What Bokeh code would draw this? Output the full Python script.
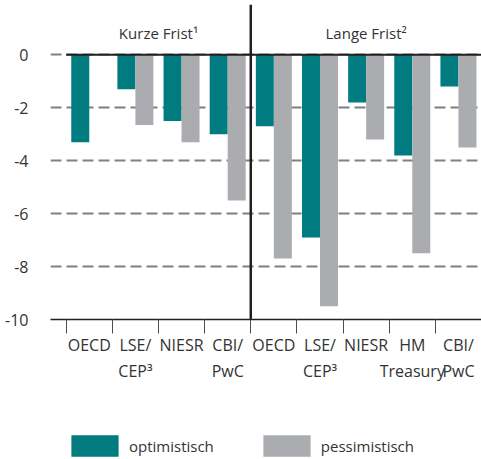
from bokeh.plotting import figure
from bokeh.models import Range1d, FixedTicker, Span, Legend, LegendItem, ColumnDataSource
from bokeh.layouts import column
from bokeh.core.properties import value
from bokeh.embed import file_html
from bokeh.resources import INLINE

# ---- data ----
categories = ["OECD", "LSE/\nCEP³", "NIESR", "CBI/\nPwC",
              "OECD", "LSE/\nCEP³", "NIESR", "HM\nTreasury", "CBI/\nPwC"]
optimistisch = [-3.3, -1.3, -2.5, -3.0, -2.7, -6.9, -1.8, -3.8, -1.2]
pessimistisch = [0.0, -2.65, -3.3, -5.5, -7.7, -9.5, -3.2, -7.5, -3.5]
groups = ["Kurze Frist¹", "Lange Frist²"]
group_sizes = [4, 5]
y_ticks = [0, -2, -4, -6, -8, -10]
y_labels = ["0", "-2", "-4", "-6", "-8", "-10"]
series_names = ["optimistisch", "pessimistisch"]

TEAL = "#007b80"
GREY = "#abacb0"
TXT = "#333333"
FONT = "Open Sans"

n = len(categories)
centers = [i + 0.5 for i in range(n)]
bw = 0.39

p = figure(frame_width=431, frame_height=315, output_backend="svg", toolbar_location=None,
           x_range=Range1d(-0.34, 9.0), y_range=Range1d(-10, 1.9),
           min_border_left=50, min_border_right=0, min_border_top=4,
           min_border_bottom=100)
p.outline_line_color = None
p.background_fill_color = None
p.border_fill_color = None

src = ColumnDataSource(dict(
    xo=[c - bw / 2 for c in centers], xp=[c + bw / 2 for c in centers],
    o=optimistisch, pe=pessimistisch))
p.vbar(x="xo", top=0, bottom="o", width=bw, source=src,
       fill_color=TEAL, line_color=None)
p.vbar(x="xp", top=0, bottom="pe", width=bw, source=src,
       fill_color=GREY, line_color=None)

# grid
p.xgrid.visible = False
p.ygrid.ticker = FixedTicker(ticks=y_ticks)
p.ygrid.grid_line_color = "#808080"
p.ygrid.grid_line_width = 2
p.ygrid.grid_line_dash = "11 5"
p.ygrid.level = "underlay"

# zero line (black) from first category boundary to end
p.segment(x0=[0], x1=[n], y0=[0], y1=[0], line_color="#231f20", line_width=2)

# separator between groups
p.add_layout(Span(location=group_sizes[0], dimension="height",
                  line_color="#231f20", line_width=2.5))

# group headers
gx = [group_sizes[0] / 2, group_sizes[0] + group_sizes[1] / 2]
p.text(x=gx, y=[0.84, 0.84], text=groups, text_align="center",
       text_baseline="middle", text_font=value(FONT),
       text_font_size="15px", text_color=TXT)

# y axis
p.yaxis.ticker = FixedTicker(ticks=y_ticks)
p.yaxis.major_label_overrides = {t: l for t, l in zip(y_ticks, y_labels)}
p.yaxis.axis_line_color = None
p.yaxis.major_tick_line_color = None
p.yaxis.minor_tick_line_color = None
p.yaxis.major_label_standoff = 16
p.yaxis.major_label_text_font = FONT
p.yaxis.major_label_text_font_size = "16px"
p.yaxis.major_label_text_color = TXT

# x axis
p.xaxis.ticker = FixedTicker(ticks=centers, minor_ticks=list(range(n + 1)))
p.xaxis.major_label_overrides = {c: lab for c, lab in zip(centers, categories)}
p.xaxis.axis_line_color = "#231f20"
p.xaxis.axis_line_width = 1.5
p.xaxis.major_tick_line_color = None
p.xaxis.major_tick_out = 0
p.xaxis.major_tick_in = 0
p.xaxis.minor_tick_line_color = "#4d4d4d"
p.xaxis.minor_tick_line_width = 1
p.xaxis.minor_tick_out = 14
p.xaxis.minor_tick_in = 0
p.xaxis.major_label_standoff = 0
p.xaxis.major_label_text_font = FONT
p.xaxis.major_label_text_font_size = "16px"
p.xaxis.major_label_text_color = TXT
p.xaxis.major_label_text_line_height = 1.2

# legend figure (series drawn from the data but outside its visible range)
lg = figure(width=481, height=40, output_backend="svg", toolbar_location=None,
            x_range=Range1d(0, n), y_range=Range1d(0, 1),
            x_axis_location=None, y_axis_location=None,
            min_border=0, outline_line_color=None)
lg.grid.visible = False
lg.background_fill_color = None
lg.border_fill_color = None
l1 = lg.vbar(x="xo", top=0, bottom="o", width=bw, source=src,
             fill_color=TEAL, line_color=None)
l2 = lg.vbar(x="xp", top=0, bottom="pe", width=bw, source=src,
             fill_color=GREY, line_color=None)
legend = Legend(items=[LegendItem(label=series_names[0], renderers=[l1]),
                       LegendItem(label=series_names[1], renderers=[l2])],
                orientation="horizontal", location=(15, 0),
                glyph_width=59, glyph_height=27, label_standoff=5,
                spacing=43, padding=0, margin=0,
                border_line_color=None, background_fill_alpha=0,
                label_text_font=FONT, label_text_font_size="15px",
                label_text_color=TXT)
lg.add_layout(legend, "center")

layout = column(p, lg, spacing=0)
open("out.html", "w").write(file_html(layout, INLINE))
